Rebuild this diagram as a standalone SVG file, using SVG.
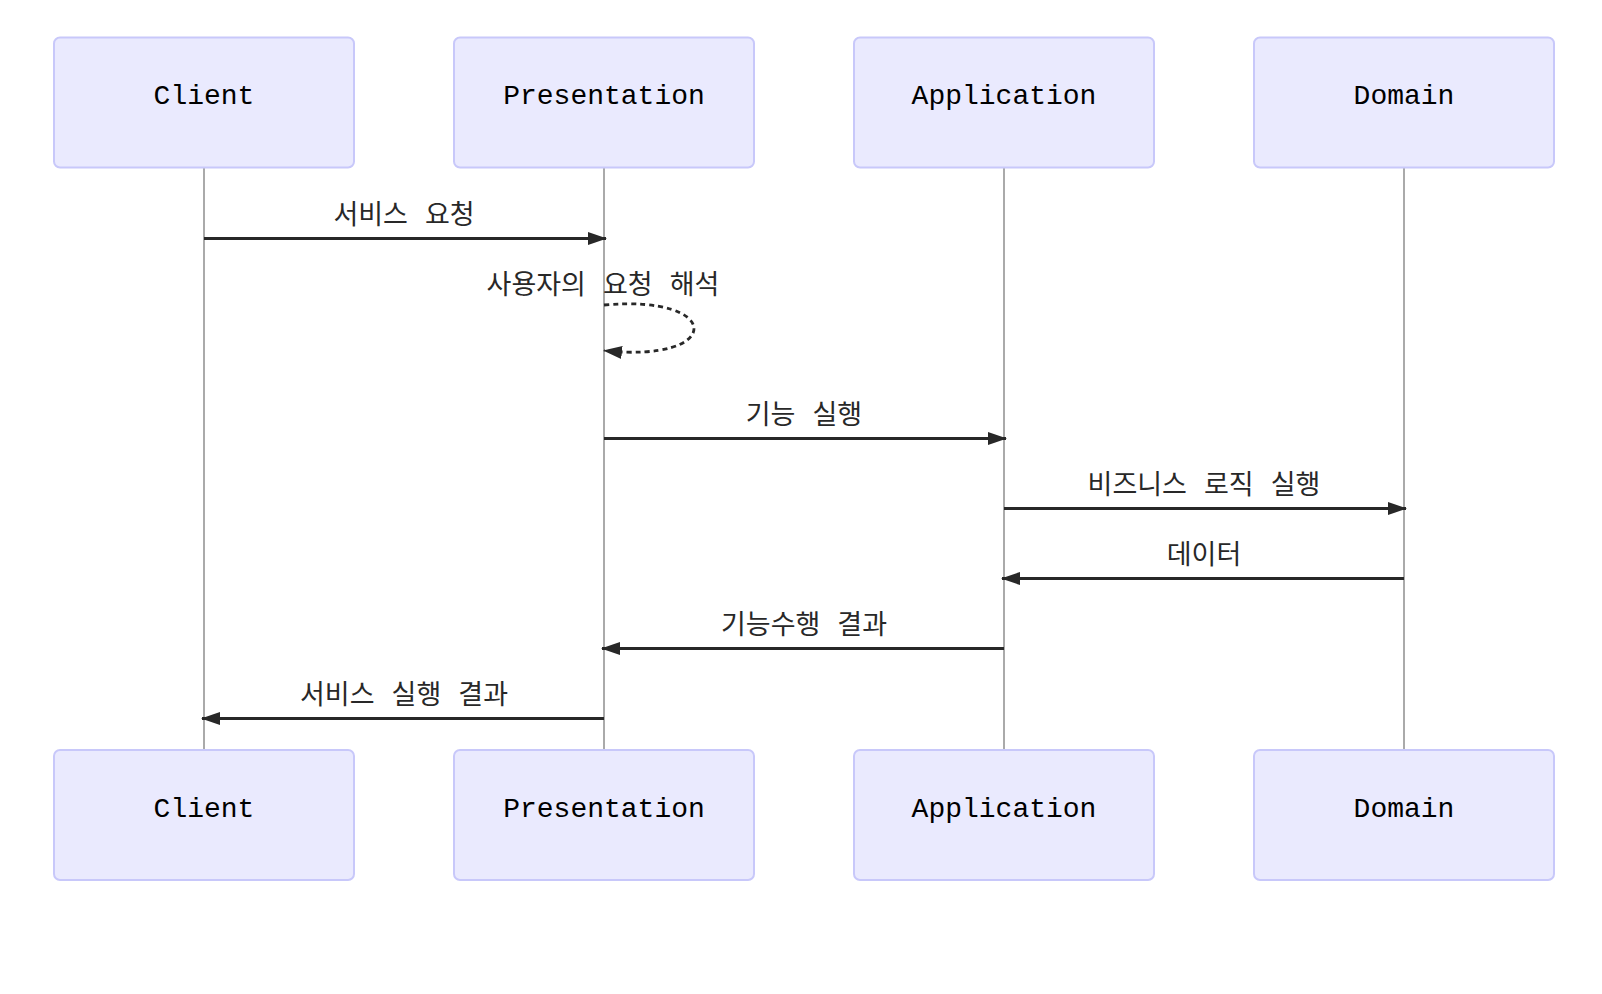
<svg xmlns="http://www.w3.org/2000/svg" width="1602" height="994" viewBox="0 0 1602 994">
<style>
.actor rect{fill:#EAEAFE;stroke:#C8C8FA;stroke-width:2}
.actor text{font-family:"Liberation Mono","DejaVu Sans Mono",monospace;font-size:28px;fill:#000;text-anchor:middle}
.life{stroke:#AAAAAA;stroke-width:2}
.msg{stroke:#282828;stroke-width:2.8;fill:none}
.lbl{font-family:"Noto Sans CJK KR","Noto Sans",sans-serif;font-size:27px;fill:#282828;text-anchor:middle;word-spacing:11px}
</style>
<defs>
<marker id="ah" viewBox="0 0 19 13" refX="18" refY="6.5" markerWidth="19" markerHeight="13" markerUnits="userSpaceOnUse" orient="auto">
<path d="M0,0 L19,6.5 L0,13 z" fill="#282828"/>
</marker>
</defs>
<g id="lifelines">
<line class="life" x1="204" y1="167" x2="204" y2="750"/>
<line class="life" x1="604" y1="167" x2="604" y2="750"/>
<line class="life" x1="1004" y1="167" x2="1004" y2="750"/>
<line class="life" x1="1404" y1="167" x2="1404" y2="750"/>
</g>
<g id="client-top" class="actor"><rect x="54" y="37.5" width="300" height="130" rx="6"/><text x="204" y="104">Client</text></g>
<g id="presentation-top" class="actor"><rect x="454" y="37.5" width="300" height="130" rx="6"/><text x="604" y="104">Presentation</text></g>
<g id="application-top" class="actor"><rect x="854" y="37.5" width="300" height="130" rx="6"/><text x="1004" y="104">Application</text></g>
<g id="domain-top" class="actor"><rect x="1254" y="37.5" width="300" height="130" rx="6"/><text x="1404" y="104">Domain</text></g>
<g id="client-bottom" class="actor"><rect x="54" y="750" width="300" height="130" rx="6"/><text x="204" y="817">Client</text></g>
<g id="presentation-bottom" class="actor"><rect x="454" y="750" width="300" height="130" rx="6"/><text x="604" y="817">Presentation</text></g>
<g id="application-bottom" class="actor"><rect x="854" y="750" width="300" height="130" rx="6"/><text x="1004" y="817">Application</text></g>
<g id="domain-bottom" class="actor"><rect x="1254" y="750" width="300" height="130" rx="6"/><text x="1404" y="817">Domain</text></g>
<g id="connectors">
<text class="lbl" x="404" y="224">서비스 요청</text>
<line class="msg" x1="204" y1="238.5" x2="606" y2="238.5" marker-end="url(#ah)"/>
<text class="lbl" x="603" y="294">사용자의 요청 해석</text>
<path class="msg" d="M604,305 C724,294 724,364 604,350.5" stroke-dasharray="5,4" marker-end="url(#ah)"/>
<text class="lbl" x="804" y="424">기능 실행</text>
<line class="msg" x1="604" y1="438.5" x2="1006" y2="438.5" marker-end="url(#ah)"/>
<text class="lbl" x="1204" y="494">비즈니스 로직 실행</text>
<line class="msg" x1="1004" y1="508.5" x2="1406" y2="508.5" marker-end="url(#ah)"/>
<text class="lbl" x="1204" y="564">데이터</text>
<line class="msg" x1="1404" y1="578.5" x2="1002" y2="578.5" marker-end="url(#ah)"/>
<text class="lbl" x="804" y="634">기능수행 결과</text>
<line class="msg" x1="1004" y1="648.5" x2="602" y2="648.5" marker-end="url(#ah)"/>
<text class="lbl" x="404" y="704">서비스 실행 결과</text>
<line class="msg" x1="604" y1="718.5" x2="202" y2="718.5" marker-end="url(#ah)"/>
</g>
</svg>
